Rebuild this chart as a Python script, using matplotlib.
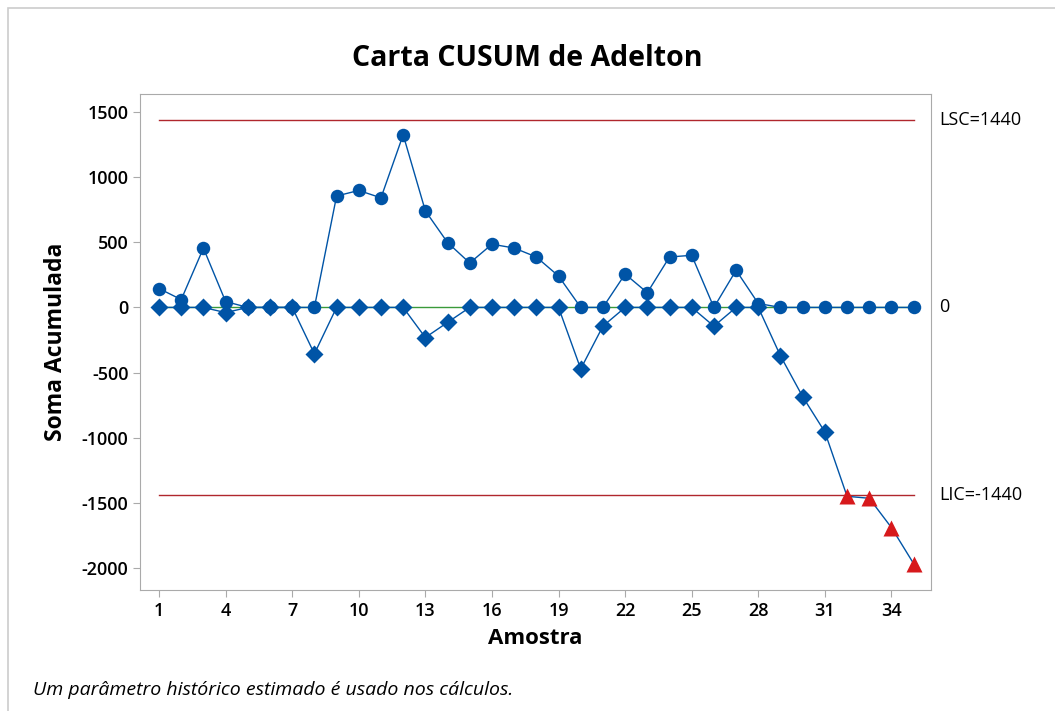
import matplotlib.pyplot as plt
import numpy as np
from matplotlib.patches import Rectangle

samples = np.arange(1, 36)
cusum_upper = [145, 60, 455, 45, 0, 0, 0, 0, 855, 898, 841, 1325, 741, 498,
               341, 485, 456, 387, 241, 0, 0, 256, 113, 387, 400, 0, 285, 30,
               0, 0, 0, 0, 0, 0, 0]
cusum_lower = [0, 0, 0, -40, 0, 0, 0, -356, 0, 0, 0, 0, -231, -115,
               0, 0, 0, 0, 0, -472, -144, 0, 0, 0, 0, -144, 0, 0,
               -372, -685, -956, -1450, -1465, -1690, -1967]
lsc = 1440
lic = -1440
center = 0
xticks = np.arange(1, 36, 3)
yticks = [-2000, -1500, -1000, -500, 0, 500, 1000, 1500]

blue = '#0054a6'
red_line = '#b0272d'
green = '#3a9a3a'

plt.rcParams['font.family'] = ['Open Sans', 'DejaVu Sans']
plt.rcParams['axes.unicode_minus'] = False

fig = plt.figure(figsize=(10.55, 7.11), dpi=100)
fig.patches.append(Rectangle((8 / 1055, -0.01), 1.1, 1 - 8 / 711 + 0.01,
                             transform=fig.transFigure, fill=False,
                             edgecolor='#cccccc', linewidth=1.2))
ax = fig.add_axes([0.133, 0.1702, 0.749, 0.6972])

ax.plot([1, 35], [lsc, lsc], color=red_line, lw=1.0, zorder=1)
ax.plot([1, 35], [lic, lic], color=red_line, lw=1.0, zorder=1)
ax.plot([1, 35], [center, center], color=green, lw=1.0, zorder=1)

up = np.array(cusum_upper)
lo = np.array(cusum_lower)
out = lo < lic
ax.plot(samples, lo, color=blue, lw=1.0, zorder=2)
ax.plot(samples[~out], lo[~out], 'D', color=blue, ms=8.8, mec='none', zorder=3)
ax.plot(samples[out], lo[out], '^', color='#d7191c', ms=11.5, mec='none', zorder=3)
ax.plot(samples, up, color=blue, lw=1.0, zorder=4)
ax.plot(samples, up, 'o', color=blue, ms=9.7, mec='none', zorder=5)

ax.set_xlim(0.157, 35.76)
ax.set_ylim(-2169, 1636)
ax.set_xticks(xticks)
ax.set_yticks(yticks)
ax.tick_params(labelsize=13, length=5, color='#aaaaaa')
for lab in ax.get_xticklabels() + ax.get_yticklabels():
    lab.set_fontweight('semibold')
for s in ax.spines.values():
    s.set_color('#aaaaaa')

ax.set_xlabel('Amostra', fontsize=16, fontweight='bold', labelpad=6)
ax.set_ylabel('Soma Acumulada', fontsize=16.5, fontweight='bold', labelpad=10)
fig.text(0.5, 1 - 58 / 711, 'Carta CUSUM de Adelton', ha='center', va='center',
         fontsize=20.5, fontweight='bold')

for y, txt in [(lsc, 'LSC=1440'), (center, '0'), (lic, 'LIC=-1440')]:
    ax.annotate(txt, xy=(1.0, y), xycoords=('axes fraction', 'data'),
                xytext=(6, 0), textcoords='offset points', va='center',
                fontsize=13)

fig.text(33 / 1055, 1 - 690 / 711, 'Um parâmetro histórico estimado é usado nos cálculos.',
         fontsize=14, style='italic', va='center')

fig.savefig('out.png', dpi=100)
